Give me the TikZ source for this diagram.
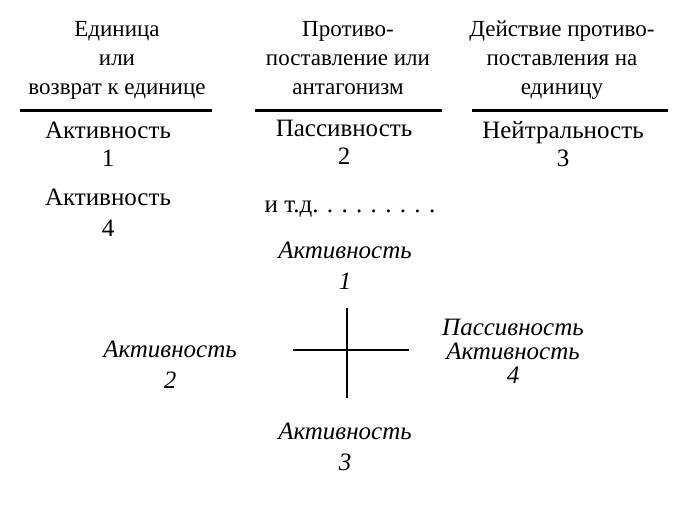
\documentclass[tikz,border=0pt]{standalone}
\usepackage{fontspec}
\setmainfont{Liberation Serif}
\begin{document}
\begin{tikzpicture}[x=1pt,y=-1pt,
  head/.style={font=\fontsize{23}{29}\selectfont, align=center, inner sep=0pt, anchor=base},
  body/.style={font=\fontsize{25}{28}\selectfont, align=center, inner sep=0pt, anchor=base},
  ital/.style={font=\fontsize{25}{31}\selectfont\itshape, align=center, inner sep=0pt, anchor=base},
  bar/.style={line width=3pt},
  crossline/.style={line width=2.4pt}]
\useasboundingbox (0,0) rectangle (690,508);
% headings (anchor = baseline of last line)
\node[head] (h1) at (117,95) {Единица\\или\\возврат к единице};
\node[head] (h2) at (348,95) {Противо-\\поставление или\\антагонизм};
\node[head] (h3) at (562,95) {Действие противо-\\поставления на\\единицу};
% rules
\coordinate (r1a) at (20,111); \coordinate (r1b) at (212,111);
\coordinate (r2a) at (255,111); \coordinate (r2b) at (442,111);
\coordinate (r3a) at (472,111); \coordinate (r3b) at (668,111);
\draw[bar] (r1a) -- (r1b);
\draw[bar] (r2a) -- (r2b);
\draw[bar] (r3a) -- (r3b);
% table body
\node[body] (a1) at (108,166) {Активность\\1};
\node[body] (p2) at (344,164) {Пассивность\\2};
\node[body] (n3) at (563,166) {Нейтральность\\3};
\node[body, font=\fontsize{25}{31}\selectfont] (a4) at (108,236) {Активность\\4};
\node[body] (etc) at (350,212) {и т.д. . . . . . . . .};
% cross diagram
\node[ital] (c1) at (345,289) {Активность\\1};
\node[ital] (c2) at (170,388) {Активность\\2};
\node[ital, font=\fontsize{25}{24}\selectfont\itshape] (c4) at (513,383) {Пассивность\\Активность\\4};
\node[ital] (c3) at (345,470) {Активность\\3};
\coordinate (vt) at (347,308); \coordinate (vb) at (347,398);
\coordinate (hl) at (293,350); \coordinate (hr) at (409,350);
\draw[crossline] (vt) -- (vb);
\draw[crossline] (hl) -- (hr);
\end{tikzpicture}
\end{document}
